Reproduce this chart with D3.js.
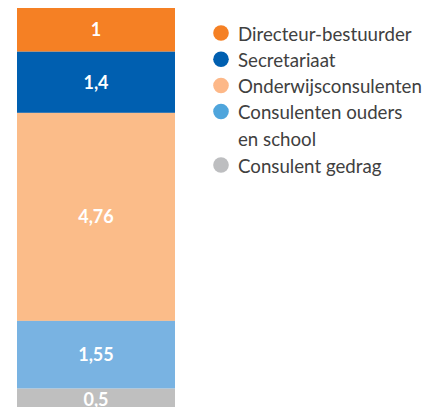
<!DOCTYPE html>
<meta charset="utf-8">
<style>
body { margin: 0; background: #fff; }
svg { display: block; }
.lbl { font: bold 18px Lato, "Open Sans", sans-serif; fill: #fff; }
.leg { font: 18.7px Lato, "Open Sans", sans-serif; fill: #404040; }
</style>
<script src="https://d3js.org/d3.v7.min.js"></script>
<body>
<div id="chart"></div>
<script>
// data, top to bottom of the stacked bar
var categories = ["Directeur-bestuurder", "Secretariaat", "Onderwijsconsulenten", "Consulenten ouders en school", "Consulent gedrag"];
var values = [1, 1.4, 4.76, 1.55, 0.5];
var valueLabels = ["1", "1,4", "4,76", "1,55", "0,5"];
var barColors = ["#F58024", "#005FB0", "#FBBC89", "#79B3E2", "#BFBFBF"];
var legendColors = ["#F58024", "#005FB0", "#FDB888", "#4FA5DC", "#BDBEC0"];
var legendLines = [["Directeur-bestuurder"], ["Secretariaat"], ["Onderwijsconsulenten"], ["Consulenten ouders", "en school"], ["Consulent gedrag"]];

var width = 440, height = 407;

var svg = d3.select("#chart").append("svg")
    .attr("width", width)
    .attr("height", height);

// cumulative stack
var starts = [], acc = 0;
values.forEach(function(v) { starts.push(acc); acc += v; });
var total = acc;

var y = d3.scaleLinear()
    .domain([0, total])
    .range([8, 8 + total * 43.7]);

var x = d3.scaleBand()
    .domain(["bar"])
    .range([17, 175])
    .padding(0);

var seg = svg.selectAll(".seg")
  .data(values)
  .enter().append("g");

seg.append("rect")
    .attr("x", x("bar"))
    .attr("width", x.bandwidth())
    .attr("y", function(d, i) { return y(starts[i]); })
    .attr("height", function(d, i) { return y(starts[i] + d) - y(starts[i]); })
    .attr("fill", function(d, i) { return barColors[i]; });

seg.append("text")
    .attr("class", "lbl")
    .attr("x", x("bar") + x.bandwidth() / 2)
    .attr("y", function(d, i) { return y(starts[i] + d / 2); })
    .attr("dy", "0.36em")
    .attr("text-anchor", "middle")
    .text(function(d, i) { return valueLabels[i]; });

// legend
var rowY = [33, 59.3, 85.5, 111.5, 165];
var leg = svg.selectAll(".legrow")
  .data(categories)
  .enter().append("g")
    .attr("transform", function(d, i) { return "translate(221," + rowY[i] + ")"; });

leg.append("circle")
    .attr("r", 7.8)
    .attr("fill", function(d, i) { return legendColors[i]; });

leg.each(function(d, i) {
  var g = d3.select(this);
  legendLines[i].forEach(function(line, j) {
    g.append("text")
      .attr("class", "leg")
      .attr("x", 17)
      .attr("y", 7.5 + j * 26.7)
      .text(line);
  });
});
</script>
</body>
